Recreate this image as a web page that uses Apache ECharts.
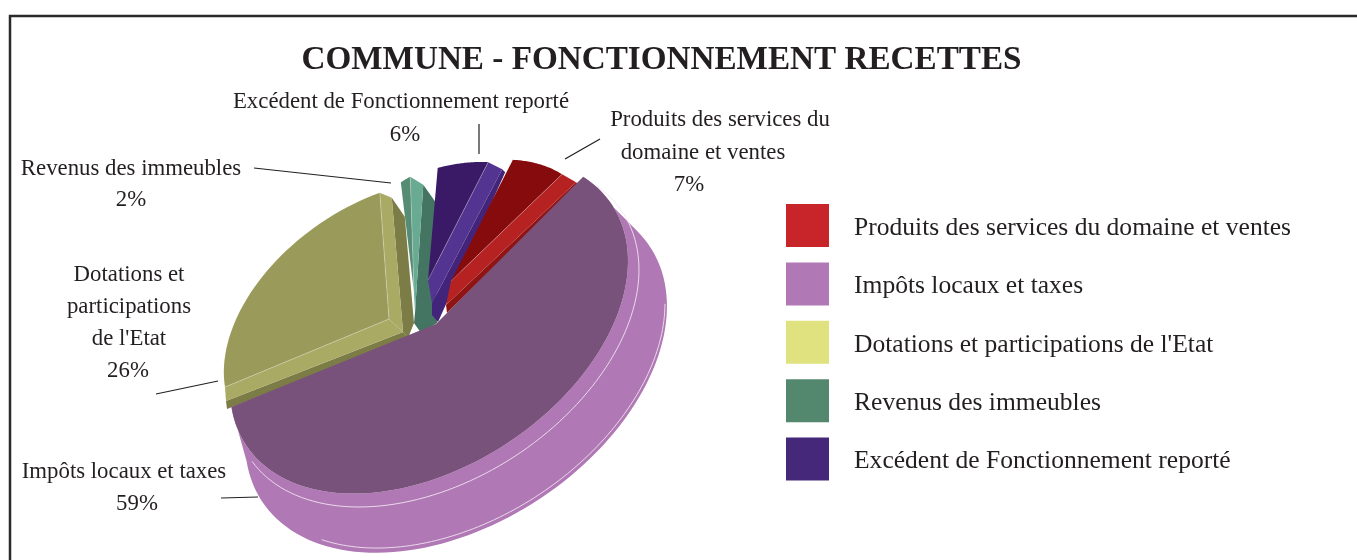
<!DOCTYPE html>
<html>
<head>
<meta charset="utf-8">
<title>Commune - fonctionnement recettes</title>
<script src="https://cdn.jsdelivr.net/npm/echarts@6/dist/echarts.min.js"></script>
<style>
html, body { margin: 0; padding: 0; background: #fff; }
#main { width: 1357px; height: 560px; }
</style>
</head>
<body>
<div id="main"></div>
<script>
var categories = ['Produits des services du domaine et ventes', 'Impôts locaux et taxes', "Dotations et participations de l'Etat", 'Revenus des immeubles', 'Excédent de Fonctionnement reporté'];
var values = [7, 59, 26, 2, 6];
var legendColors = ['#c8252a', '#b078b4', '#dfe27f', '#53886f', '#46287a'];
var titleText = 'COMMUNE - FONCTIONNEMENT RECETTES';

var FONT = '"Liberation Serif", serif';
var INK = '#231f20';

// projected pie: ellipse axes and where the first slice starts
var PIE_CENTER = [429, 325];
var AXIS_U = [199, -64];
var AXIS_V = [0, 156];
var START_ANGLE = -64.4;

function piePoint(deg, radius) {
    var a = deg * Math.PI / 180;
    return [
        (AXIS_U[0] * Math.cos(a) + AXIS_V[0] * Math.sin(a)) * radius,
        (AXIS_U[1] * Math.cos(a) + AXIS_V[1] * Math.sin(a)) * radius
    ];
}

function sliceAngles(index) {
    var total = 0, before = 0;
    for (var i = 0; i < values.length; i++) {
        total += values[i];
        if (i < index) before += values[i];
    }
    return [START_ANGLE + before / total * 360, START_ANGLE + (before + values[index]) / total * 360];
}

function shifted(p, offs) {
    return offs.map(function (o) { return [p[0] + o[0], p[1] + o[1]]; });
}

function wall(fill, outer, apex, outerOffs, apexOffs) {
    return {
        type: 'polygon',
        shape: { points: shifted(outer, outerOffs).concat(shifted(apex, apexOffs)) },
        style: { fill: fill }
    };
}

function edgeLine(a, b) {
    return {
        type: 'polyline',
        shape: { points: [a, b] },
        style: { stroke: 'rgba(255,255,255,0.35)', lineWidth: 0.8, fill: null }
    };
}

// slices pulled out of the pie, their top face and the two bands of their walls
var sliceStyles = [
    {
        apex: [451, 281], radius: 0.72, top: '#860b0c', light: '#b52221', dark: '#8f1414',
        walls: [{ edge: 1, light: [[[14, 8]], [[-5, 24]]], dark: [[[16, 10]], [[-4, 32]]] }]
    },
    null,
    {
        apex: [389, 319], radius: 0.83, top: '#9a9b5a', light: '#a9ab65', dark: '#7b7c46',
        walls: [
            { edge: 0, light: [[[1, 14]], [[14, 13]]], dark: [[[2, 22]], [[19, 19]]] },
            { edge: 1, light: [[[12, 5]], [[14, 13]]], dark: [[[25, 24]], [[25, 4], [19, 19]]] }
        ]
    },
    {
        apex: [414, 292], radius: 0.72, squeeze: 0.55, lean: 0.08, top: '#568b74', light: '#69aa93', dark: '#447562',
        walls: [{ edge: 1, light: [[[13, 8]], [[1, 21]]], dark: [[[25, 25]], [[23, 31], [7, 41], [0, 31]]] }]
    },
    {
        apex: [428, 280], radius: 0.7, top: '#3a1a66', light: '#533491', dark: '#42257a',
        walls: [{ edge: 1, light: [[[14, 7]], [[4, 23]]], dark: [[[17, 10]], [[10, 42], [4, 35]]] }]
    }
];

function renderSlice(index) {
    var s = sliceStyles[index];
    var ang = sliceAngles(index);
    var arc = [], i, n = 40;
    for (i = 0; i <= n; i++) {
        var p = piePoint(ang[0] + (ang[1] - ang[0]) * i / n, s.radius);
        var x = p[0] * (s.squeeze || 1) + p[1] * (s.lean || 0);
        arc.push([s.apex[0] + x, s.apex[1] + p[1]]);
    }
    var children = [];
    s.walls.forEach(function (w) {
        var outer = w.edge ? arc[n] : arc[0];
        children.push(wall(s.dark, outer, s.apex, w.light[0].concat(w.dark[0]), w.dark[1].concat(w.light[1])));
        children.push(wall(s.light, outer, s.apex, [[0, 0]].concat(w.light[0]), w.light[1].concat([[0, 0]])));
    });
    children.push({ type: 'polygon', shape: { points: [s.apex].concat(arc) }, style: { fill: s.top } });
    s.walls.forEach(function (w) {
        children.push(edgeLine(w.edge ? arc[n] : arc[0], s.apex));
    });
    return { type: 'group', children: children };
}

function ellipseArc(from, to, scale, center) {
    var pts = [], n = 90;
    for (var i = 0; i <= n; i++) {
        var p = piePoint(from + (to - from) * i / n, scale);
        pts.push([center[0] + p[0], center[1] + p[1]]);
    }
    return pts;
}

// the large slice stays in place and shows its full rim
function renderMainSlice(index) {
    var ang = sliceAngles(index);
    var topArc = ellipseArc(ang[0], ang[1], 1, PIE_CENTER);
    var rim = ellipseArc(ang[0] + 8, ang[1], 1.06, [456, 374]);
    var children = [
        { type: 'polygon', shape: { points: rim.concat(topArc.slice().reverse()) }, style: { fill: '#b078b4' } },
        { type: 'polyline', shape: { points: ellipseArc(ang[0] + 2, 155, 1.02, [436, 335]) }, style: { stroke: '#f1e4f1', lineWidth: 0.9, fill: null } },
        { type: 'polyline', shape: { points: ellipseArc(0, 130, 1.05, [456, 371]) }, style: { stroke: '#f1e4f1', lineWidth: 0.9, fill: null } },
        { type: 'polygon', shape: { points: [[436, 324]].concat(topArc) }, style: { fill: '#79527b' } }
    ];
    return { type: 'group', children: children };
}

function makeSeries(index) {
    return {
        type: 'custom',
        name: categories[index],
        coordinateSystem: 'none',
        silent: true,
        animation: false,
        itemStyle: { color: legendColors[index] },
        data: [[values[index]]],
        renderItem: function () {
            return index === 1 ? renderMainSlice(index) : renderSlice(index);
        }
    };
}

// labels around the pie, line by line
function pct(index) { return values[index] + '%'; }
var labelLines = [
    ['Excédent de Fonctionnement reporté', 401, 102], [pct(4), 405, 135],
    ['Produits des services du', 720, 120], ['domaine et ventes', 703, 153], [pct(0), 689, 185],
    ['Revenus des immeubles', 131, 169], [pct(3), 131, 200],
    ['Dotations et', 129, 275], ['participations', 129, 307], ["de l'Etat", 129, 339], [pct(2), 128, 371],
    ['Impôts locaux et taxes', 124, 472], [pct(1), 137, 504]
];
var leaders = [
    [479, 124, 479, 154],
    [600, 139, 565, 159],
    [254, 168, 391, 183],
    [218, 381, 156, 394],
    [221, 498, 258, 497]
];

var graphics = [{
    type: 'rect',
    shape: { x: 10, y: 16, width: 1400, height: 600 },
    style: { fill: null, stroke: '#2a2a2a', lineWidth: 2.5 },
    z: 0
}];
labelLines.forEach(function (l) {
    graphics.push({
        type: 'text', x: l[1], y: l[2], z: 10,
        style: { text: l[0], fill: INK, font: '22.8px ' + FONT, textAlign: 'center', textVerticalAlign: 'middle' }
    });
});
leaders.forEach(function (l) {
    graphics.push({
        type: 'line', z: 10,
        shape: { x1: l[0], y1: l[1], x2: l[2], y2: l[3] },
        style: { stroke: INK, lineWidth: 1.2 }
    });
});

var drawOrder = [2, 3, 4, 0, 1];

var myChart = echarts.init(document.getElementById('main'), null, { renderer: 'canvas' });
myChart.setOption({
    backgroundColor: '#fff',
    animation: false,
    title: {
        text: titleText,
        left: 656.5,
        top: 39,
        textAlign: 'center',
        textStyle: { fontFamily: FONT, fontWeight: 'bold', fontSize: 33.2, color: INK }
    },
    legend: {
        orient: 'vertical',
        left: 786,
        top: 204,
        padding: 0,
        itemWidth: 43,
        itemHeight: 43,
        itemGap: 15.4,
        icon: 'rect',
        selectedMode: false,
        data: categories.map(function (name, i) {
            return { name: name, itemStyle: { color: legendColors[i] } };
        }),
        formatter: '{t|{name}}',
        textStyle: {
            rich: {
                t: { fontFamily: FONT, fontSize: 25.55, color: INK, padding: [5, 0, 0, 20] }
            }
        }
    },
    graphic: graphics,
    series: drawOrder.map(makeSeries)
});
</script>
</body>
</html>
